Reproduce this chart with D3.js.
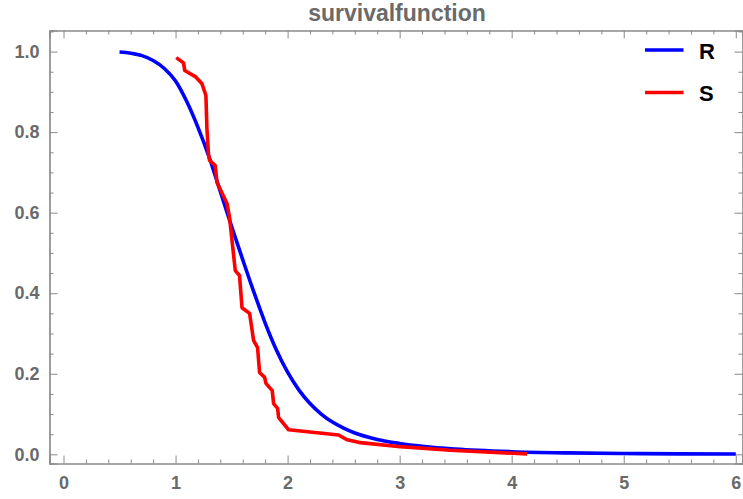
<!DOCTYPE html>
<html><head><meta charset="utf-8">
<script src="https://cdn.jsdelivr.net/npm/d3@7"></script>
<style>body{margin:0;background:#fff;} svg{display:block;}</style>
</head><body>
<script>
const title = "survivalfunction";
const seriesNames = ["R", "S"];
const seriesColors = ["#0000ff", "#ff0000"];
const rX = [0.5,0.6,0.7,0.8,0.9,1.0,1.1,1.2,1.3,1.4,1.5,1.6,1.7,1.8,1.9,2.0,2.1,2.2,2.3,2.4,2.5,2.6,2.8,3.0,3.5,4.0,4.5,5.0,5.5,6.0];
const rY = [0.999,0.996,0.990,0.978,0.958,0.927,0.876,0.812,0.738,0.652,0.566,0.483,0.402,0.326,0.259,0.204,0.160,0.126,0.100,0.080,0.065,0.053,0.037,0.027,0.013,0.0065,0.0035,0.002,0.0012,0.0008];
const sX = [1.006,1.071,1.082,1.176,1.236,1.271,1.280,1.295,1.304,1.354,1.370,1.459,1.482,1.504,1.533,1.571,1.593,1.661,1.696,1.732,1.750,1.795,1.807,1.863,1.875,1.911,1.920,2.009,2.455,2.533,2.650,3.006,3.453,4.138];
const sY = [0.985,0.972,0.953,0.938,0.920,0.891,0.809,0.742,0.730,0.717,0.675,0.623,0.588,0.531,0.456,0.444,0.364,0.350,0.283,0.265,0.203,0.191,0.176,0.158,0.126,0.114,0.091,0.061,0.048,0.036,0.029,0.019,0.010,0.001];
const xMajor = [0,1,2,3,4,5,6];
const yMajor = [0.0,0.2,0.4,0.6,0.8,1.0];

const W = 743, H = 499;
const L = 49.5, R = 742.5, T = 30.5, B = 463.5;
const svg = d3.select("body").append("svg").attr("width", W).attr("height", H);
const x = d3.scaleLinear().domain([-0.125, 6.06]).range([L, R]);
const y = d3.scaleLinear().domain([-0.0228, 1.0524]).range([B, T]);

const frameColor = "#8a8a8a", textColor = "#6a6a6a";
const xMinor = d3.range(0, 6.01, 0.2).filter(v => Math.abs(v - Math.round(v)) > 1e-6);
const yMinor = d3.range(0, 1.051, 0.05).filter(v => Math.abs(v*5 - Math.round(v*5)) > 1e-6);

const fmtY = d3.format(".1f");
const bottom = d3.axisBottom(x).tickValues(xMajor).tickSize(-8).tickPadding(13).tickFormat(d3.format("d"));
const left = d3.axisLeft(y).tickValues(yMajor).tickSize(-8).tickPadding(10).tickFormat(fmtY);
svg.append("g").attr("transform", `translate(0,${B})`).call(bottom);
svg.append("g").attr("transform", `translate(${L},0)`).call(left);
svg.append("g").attr("transform", `translate(0,${B})`).call(d3.axisBottom(x).tickValues(xMinor).tickSize(-4).tickFormat(""));
svg.append("g").attr("transform", `translate(${L},0)`).call(d3.axisLeft(y).tickValues(yMinor).tickSize(-4).tickFormat(""));
svg.append("g").attr("transform", `translate(0,${T})`).call(d3.axisTop(x).tickValues(xMajor).tickSize(-8).tickFormat(""));
svg.append("g").attr("transform", `translate(0,${T})`).call(d3.axisTop(x).tickValues(xMinor).tickSize(-4).tickFormat(""));
svg.append("g").attr("transform", `translate(${R},0)`).call(d3.axisRight(y).tickValues(yMajor).tickSize(-8).tickFormat(""));
svg.append("g").attr("transform", `translate(${R},0)`).call(d3.axisRight(y).tickValues(yMinor).tickSize(-4).tickFormat(""));
svg.selectAll(".domain").attr("stroke", frameColor).attr("stroke-width", 1.2);
svg.selectAll(".tick line").attr("stroke", frameColor).attr("stroke-width", 1);
svg.selectAll(".tick text").attr("fill", textColor).attr("font-family", "Liberation Sans, Arial, sans-serif")
  .attr("font-weight", "bold").attr("font-size", 18);

svg.append("text").attr("x", (L + R) / 2 + 1).attr("y", 21).attr("text-anchor", "middle")
  .attr("font-family", "Liberation Sans, Arial, sans-serif").attr("font-weight", "bold")
  .attr("font-size", 23).attr("fill", textColor).text(title);

svg.append("clipPath").attr("id", "c").append("rect")
  .attr("x", L).attr("y", T).attr("width", R - L).attr("height", B - T);
const plot = svg.append("g").attr("clip-path", "url(#c)");

const rData = rX.map((v, i) => [v, rY[i]]);
const sData = sX.map((v, i) => [v, sY[i]]);
plot.append("path").datum(rData).attr("fill", "none").attr("stroke", seriesColors[0]).attr("stroke-width", 3.6)
  .attr("d", d3.line().x(d => x(d[0])).y(d => y(d[1])).curve(d3.curveMonotoneX));
plot.append("path").datum(sData).attr("fill", "none").attr("stroke", seriesColors[1]).attr("stroke-width", 3.6)
  .attr("stroke-linejoin", "round")
  .attr("d", d3.line().x(d => x(d[0])).y(d => y(d[1])));

const leg = svg.append("g");
seriesNames.forEach((n, i) => {
  const yy = 50 + i * 42.5;
  leg.append("line").attr("x1", 645).attr("x2", 683.5).attr("y1", yy).attr("y2", yy)
    .attr("stroke", seriesColors[i]).attr("stroke-width", 3.6);
  leg.append("text").attr("x", 699).attr("y", yy + 8.5).attr("font-family", "Liberation Sans, Arial, sans-serif")
    .attr("font-weight", "bold").attr("font-size", 22).attr("fill", "#000").text(n);
});
</script>
</body></html>
